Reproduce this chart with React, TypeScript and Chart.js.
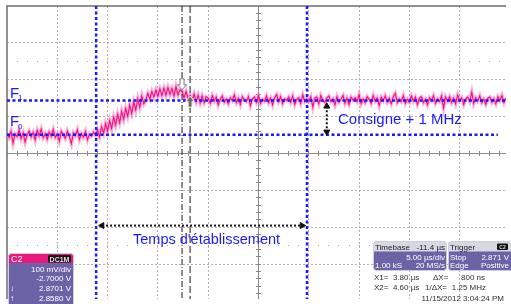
import React, { useEffect, useRef } from "react";
import { Chart, registerables } from "chart.js";

Chart.register(...registerables);

// ---------- data ----------
const sampleStartUs = -13.6;
const sampleStepUs = 0.2;

// C2 trace (V), one sample every 0.2 µs
const baselineVolts = [
  2.754, 2.743, 2.760, 2.728, 2.753, 2.746, 2.764, 2.741, 2.756, 2.731,
  2.750, 2.761, 2.745, 2.757, 2.737, 2.763, 2.748, 2.766, 2.743, 2.754,
  2.739, 2.758, 2.747, 2.765, 2.744, 2.753, 2.734, 2.760, 2.750, 2.741,
  2.761, 2.746, 2.727, 2.756, 2.748, 2.764, 2.738, 2.754, 2.744, 2.760,
  2.737, 2.753, 2.747, 2.758, 2.750,
];
const riseVolts = [
  2.764, 2.745, 2.772, 2.755, 2.781, 2.761, 2.789, 2.768, 2.798, 2.777,
  2.806, 2.784, 2.814, 2.793, 2.822, 2.801, 2.831, 2.809, 2.839, 2.818,
  2.848, 2.826, 2.856, 2.835,
];
const overshootVolts = [
  2.845, 2.863, 2.848, 2.868, 2.853, 2.872, 2.855, 2.875, 2.857, 2.877,
  2.858, 2.879, 2.860, 2.876, 2.856, 2.881, 2.859, 2.873, 2.870, 2.851,
  2.868, 2.848, 2.858, 2.843, 2.861, 2.840, 2.858, 2.837, 2.856, 2.838,
  2.854,
];
const settledVolts = [
  2.850, 2.836, 2.857, 2.842, 2.853, 2.832, 2.847, 2.856, 2.839, 2.848,
  2.835, 2.851, 2.844, 2.859, 2.838, 2.850, 2.833, 2.854, 2.845, 2.841,
  2.854, 2.830, 2.848, 2.853, 2.839, 2.857, 2.836, 2.847, 2.842, 2.856,
  2.838, 2.850, 2.832, 2.851, 2.860, 2.841, 2.854, 2.835, 2.848, 2.844,
  2.853, 2.839, 2.856, 2.833, 2.847, 2.851, 2.836, 2.859, 2.841, 2.848,
  2.842, 2.854, 2.826, 2.850, 2.853, 2.835, 2.857, 2.844, 2.838, 2.851,
  2.856, 2.841, 2.848, 2.832, 2.854, 2.839, 2.847, 2.857, 2.836, 2.850,
  2.833, 2.853, 2.845, 2.851, 2.841, 2.859, 2.835, 2.848, 2.838, 2.854,
  2.847, 2.836, 2.857, 2.842, 2.851, 2.830, 2.853, 2.844, 2.856, 2.839,
  2.850, 2.835, 2.854, 2.863, 2.838, 2.848, 2.841, 2.857, 2.836, 2.847,
  2.839, 2.856, 2.842, 2.853, 2.833, 2.850, 2.854, 2.838, 2.847, 2.832,
  2.851, 2.844, 2.857, 2.836, 2.848, 2.841, 2.856, 2.824, 2.853, 2.842,
  2.854, 2.838, 2.850, 2.835, 2.859, 2.844, 2.851, 2.833, 2.848, 2.853,
  2.841, 2.866, 2.836, 2.851, 2.842, 2.856, 2.838, 2.847, 2.833, 2.850,
  2.853, 2.839, 2.848, 2.835, 2.854, 2.844, 2.857, 2.838, 2.850,
];
const signalVolts = [...baselineVolts, ...riseVolts, ...overshootVolts, ...settledVolts];

// screen / graticule (5 µs/div, 100 mV/div, centre 11.4 µs / 2.7 V)
const screenTimeUs = [-13.6, 36.006];
const screenVolts = [2.30533, 3.1];
const gridTimesUs = [-8.6, -3.6, 1.4, 6.4, 16.4, 21.4, 26.4, 31.4];
const gridVolts = [3.0, 2.9, 2.8, 2.6, 2.5, 2.4];
const centerTimeUs = 11.4;
const centerVolt = 2.7;
const minorTimeStepUs = 1;
const minorVoltStep = 0.02;
const halfDivVolts = [2.95, 2.45];

// annotations
const levelF1 = 2.844;
const levelF0 = 2.7507;
const levelF0EndUs = 35.2;
const settleStartUs = -4.74;
const settleEndUs = 16.22;
const cursorTimesUs = [3.8, 4.6];
const cursorVolts = [2.8701, 2.858];
const settleArrowUs = [-4.15, 15.73];
const settleArrowVolt = 2.5045;
const stepArrowUs = 18.19;
const stepArrowVolts = [2.828, 2.7587];

const labelConsigne = "Consigne + 1 MHz";
const labelSettling = "Temps d'établissement";
const channelInfo = ["C2", "DC1M", "100 mV/div", "-2.7000 V", "2.8701 V", "2.8580 V"];
const timebaseInfo = ["Timebase", "-11.4 µs", "5.00 µs/div", "1.00 kS", "20 MS/s"];
const triggerInfo = ["Trigger", "Stop", "2.871 V", "Edge", "Positive"];
const cursorInfo = ["X1=  3.80 µs", "ΔX=", "800 ns", "X2=  4.60 µs", "1/ΔX=", "1.25 MHz"];
const dateText = "11/15/2012 3:04:24 PM";

const FONT = "'Liberation Sans', Arial, sans-serif";
const BLUE = "#1a1aff";
const PURPLE = "#6b63a5";

function rr(ctx: CanvasRenderingContext2D, x: number, y: number, w: number, h: number, r: number) {
  ctx.beginPath();
  ctx.moveTo(x + r, y);
  ctx.lineTo(x + w - r, y);
  ctx.quadraticCurveTo(x + w, y, x + w, y + r);
  ctx.lineTo(x + w, y + h - r);
  ctx.quadraticCurveTo(x + w, y + h, x + w - r, y + h);
  ctx.lineTo(x + r, y + h);
  ctx.quadraticCurveTo(x, y + h, x, y + h - r);
  ctx.lineTo(x, y + r);
  ctx.quadraticCurveTo(x, y, x + r, y);
  ctx.closePath();
}

const graticule = {
  id: "graticule",
  beforeDatasetsDraw(chart: any) {
    const { ctx, chartArea: a, scales } = chart;
    const xs = scales.x;
    const ys = scales.y;
    const px = (t: number) => Math.floor(xs.getPixelForValue(t)) + 0.5;
    const py = (v: number) => Math.floor(ys.getPixelForValue(v)) + 0.5;
    ctx.save();
    ctx.lineWidth = 1;
    ctx.strokeStyle = "#b0b0b0";
    ctx.setLineDash([2, 2]);
    ctx.beginPath();
    gridTimesUs.forEach((t) => {
      const x = px(t);
      ctx.moveTo(x, a.top);
      ctx.lineTo(x, a.bottom);
    });
    gridVolts.forEach((v) => {
      const y = py(v);
      ctx.moveTo(a.left, y);
      ctx.lineTo(a.right, y);
    });
    ctx.stroke();
    ctx.setLineDash([]);

    ctx.fillStyle = "#a4a4a4";
    halfDivVolts.forEach((v) => {
      const y = Math.floor(ys.getPixelForValue(v));
      for (let k = -30; k <= 30; k++) {
        const t = centerTimeUs + k * minorTimeStepUs;
        if (t <= screenTimeUs[0] || t >= screenTimeUs[1]) continue;
        ctx.fillRect(Math.floor(xs.getPixelForValue(t)), y, 1, 1);
      }
    });

    const cx = px(centerTimeUs);
    const cy = py(centerVolt);
    ctx.strokeStyle = "#8a8a8a";
    ctx.beginPath();
    ctx.moveTo(cx, a.top);
    ctx.lineTo(cx, a.bottom);
    ctx.moveTo(a.left, cy);
    ctx.lineTo(a.right, cy);
    for (let k = -30; k <= 30; k++) {
      const t = centerTimeUs + k * minorTimeStepUs;
      if (t <= screenTimeUs[0] || t >= screenTimeUs[1]) continue;
      const x = px(t);
      ctx.moveTo(x, cy - 2.5);
      ctx.lineTo(x, cy + 2.5);
    }
    for (let k = -25; k <= 25; k++) {
      const v = centerVolt + k * minorVoltStep;
      if (v <= screenVolts[0] || v >= screenVolts[1]) continue;
      const y = py(v);
      ctx.moveTo(cx - 2.5, y);
      ctx.lineTo(cx + 2.5, y);
    }
    ctx.stroke();

    ctx.strokeStyle = "#6e6e6e";
    ctx.lineWidth = 1.5;
    ctx.beginPath();
    ctx.moveTo(a.left, a.bottom);
    ctx.lineTo(a.left, a.top);
    ctx.lineTo(a.right, a.top);
    ctx.stroke();
    ctx.restore();
  },
};

const overlay = {
  id: "overlay",
  afterDraw(chart: any) {
    const ctx: CanvasRenderingContext2D = chart.ctx;
    const xs = chart.scales.x;
    const ys = chart.scales.y;
    ctx.save();

    // cursor markers
    const m1x = xs.getPixelForValue(cursorTimesUs[0]);
    const m1y = ys.getPixelForValue(cursorVolts[0]) - 1;
    ctx.beginPath();
    ctx.moveTo(m1x, m1y);
    ctx.lineTo(m1x - 4.5, m1y - 5);
    ctx.lineTo(m1x - 2, m1y - 5);
    ctx.lineTo(m1x - 2, m1y - 11);
    ctx.lineTo(m1x + 2, m1y - 11);
    ctx.lineTo(m1x + 2, m1y - 5);
    ctx.lineTo(m1x + 4.5, m1y - 5);
    ctx.closePath();
    ctx.fillStyle = "#ffffff";
    ctx.fill();
    ctx.strokeStyle = "#7a7a7a";
    ctx.lineWidth = 1;
    ctx.stroke();

    const m2x = xs.getPixelForValue(cursorTimesUs[1]);
    const m2y = ys.getPixelForValue(cursorVolts[1]) + 1;
    ctx.beginPath();
    ctx.moveTo(m2x, m2y);
    ctx.lineTo(m2x + 4.5, m2y + 5);
    ctx.lineTo(m2x + 2, m2y + 5);
    ctx.lineTo(m2x + 2, m2y + 11);
    ctx.lineTo(m2x - 2, m2y + 11);
    ctx.lineTo(m2x - 2, m2y + 5);
    ctx.lineTo(m2x - 4.5, m2y + 5);
    ctx.closePath();
    ctx.fillStyle = "#6a6a6a";
    ctx.fill();
    ctx.strokeStyle = "#ffffff";
    ctx.stroke();

    // blue labels
    ctx.fillStyle = BLUE;
    ctx.textBaseline = "alphabetic";
    ctx.textAlign = "left";
    const yF1 = ys.getPixelForValue(levelF1);
    const yF0 = ys.getPixelForValue(levelF0);
    ctx.font = `15px ${FONT}`;
    ctx.fillText("F", 10, yF1 - 2);
    ctx.fillText("F", 10, yF0 - 9);
    ctx.font = `8px ${FONT}`;
    ctx.fillText("1", 18, yF1);
    ctx.fillText("0", 18, yF0 - 6);
    ctx.font = `15px ${FONT}`;
    ctx.fillText(labelConsigne, 338, 124);
    ctx.font = `14.5px ${FONT}`;
    ctx.fillText(labelSettling, 133, 244);

    // channel descriptor
    ctx.save();
    rr(ctx, 8.5, 253.5, 65, 60, 3);
    ctx.clip();
    ctx.fillStyle = PURPLE;
    ctx.fillRect(0, 250, 80, 60);
    ctx.fillStyle = "#e8197d";
    ctx.fillRect(0, 250, 80, 13);
    ctx.restore();
    rr(ctx, 8.5, 253.5, 65, 60, 3);
    ctx.strokeStyle = "#cfcbe6";
    ctx.lineWidth = 1;
    ctx.stroke();
    rr(ctx, 48, 255, 23, 7.5, 1.5);
    ctx.fillStyle = "#141414";
    ctx.fill();
    ctx.font = `bold 7px ${FONT}`;
    ctx.fillStyle = "#f3d6e6";
    ctx.textAlign = "center";
    ctx.fillText(channelInfo[1], 59.5, 261.5);
    ctx.textAlign = "left";
    ctx.font = `9px ${FONT}`;
    ctx.fillStyle = "#ffffff";
    ctx.fillText(channelInfo[0], 11, 262);
    ctx.font = `8px ${FONT}`;
    ctx.textAlign = "right";
    ctx.fillText(channelInfo[2], 71, 272);
    ctx.fillText(channelInfo[3], 71, 281);
    ctx.fillText(channelInfo[4], 71, 291);
    ctx.fillText(channelInfo[5], 71, 301);
    ctx.textAlign = "left";
    ctx.fillText("↓", 10, 291);
    ctx.fillText("↑", 10, 301);

    // timebase & trigger descriptors
    const boxes: [number, number][] = [
      [373.5, 73],
      [448.5, 66],
    ];
    boxes.forEach(([bx, bw]) => {
      ctx.save();
      rr(ctx, bx, 241.5, bw, 29, 3);
      ctx.clip();
      ctx.fillStyle = PURPLE;
      ctx.fillRect(bx - 1, 240, bw + 2, 32);
      ctx.fillStyle = "#d8d8e0";
      ctx.fillRect(bx - 1, 240, bw + 2, 11.5);
      ctx.restore();
      rr(ctx, bx, 241.5, bw, 29, 3);
      ctx.strokeStyle = "#cfcbe6";
      ctx.stroke();
    });
    rr(ctx, 497, 243.5, 11, 6.5, 1);
    ctx.fillStyle = "#111";
    ctx.fill();
    ctx.font = `bold 5px ${FONT}`;
    ctx.fillStyle = "#ddd";
    ctx.textAlign = "center";
    ctx.fillText("C2", 502.5, 249);

    ctx.font = `8px ${FONT}`;
    ctx.fillStyle = "#1a1a2a";
    ctx.textAlign = "left";
    ctx.fillText(timebaseInfo[0], 375, 249.5);
    ctx.fillText(triggerInfo[0], 450, 249.5);
    ctx.textAlign = "right";
    ctx.fillText(timebaseInfo[1], 445, 249.5);
    ctx.fillStyle = "#ffffff";
    ctx.fillText(timebaseInfo[2], 445, 259.5);
    ctx.fillText(timebaseInfo[4], 445, 268);
    ctx.fillText(triggerInfo[2], 509, 259.5);
    ctx.fillText(triggerInfo[4], 509, 268);
    ctx.textAlign = "left";
    ctx.fillText(timebaseInfo[3], 375, 268);
    ctx.fillText(triggerInfo[1], 450, 259.5);
    ctx.fillText(triggerInfo[3], 450, 268);

    // cursor readouts
    ctx.fillStyle = "#303030";
    ctx.fillText(cursorInfo[0], 374, 280);
    ctx.fillText(cursorInfo[1], 433, 280);
    ctx.fillText(cursorInfo[3], 374, 290);
    ctx.textAlign = "right";
    ctx.fillText(cursorInfo[2], 485, 280);
    ctx.fillText(cursorInfo[4], 447, 290);
    ctx.fillText(cursorInfo[5], 486, 290);
    ctx.fillText(dateText, 504, 301);

    ctx.restore();
  },
};

export default function App() {
  const ref = useRef<HTMLCanvasElement>(null);

  useEffect(() => {
    document.body.style.margin = "0";
    const canvas = ref.current;
    if (!canvas) return;
    const trace = signalVolts.map((v, i) => ({ x: sampleStartUs + i * sampleStepUs, y: v }));
    const fullHeight = [
      { y: screenVolts[1] },
      { y: screenVolts[0] },
    ];
    const datasets: any[] = [
      {
        label: "settle arrow",
        data: [
          { x: settleArrowUs[0], y: settleArrowVolt },
          { x: settleArrowUs[1], y: settleArrowVolt },
        ],
        borderColor: "#111",
        borderWidth: 2,
        borderDash: [2, 2],
        pointStyle: "triangle",
        pointRadius: 3.5,
        pointRotation: [270, 90],
        pointBackgroundColor: "#111",
        pointBorderColor: "#111",
        pointBorderWidth: 1,
        order: 0,
      },
      {
        label: "step arrow",
        data: [
          { x: stepArrowUs, y: stepArrowVolts[0] },
          { x: stepArrowUs, y: stepArrowVolts[1] },
        ],
        borderColor: "#111",
        borderWidth: 2,
        borderDash: [2, 2],
        pointStyle: "triangle",
        pointRadius: 3.5,
        pointRotation: [0, 180],
        pointBackgroundColor: "#111",
        pointBorderColor: "#111",
        pointBorderWidth: 1,
        order: 0,
      },
      {
        label: "F1",
        data: [
          { x: screenTimeUs[0], y: levelF1 },
          { x: screenTimeUs[1], y: levelF1 },
        ],
        borderColor: BLUE,
        borderWidth: 2.5,
        borderDash: [3, 2.5],
        pointRadius: 0,
        order: 1,
      },
      {
        label: "F0",
        data: [
          { x: screenTimeUs[0], y: levelF0 },
          { x: levelF0EndUs, y: levelF0 },
        ],
        borderColor: BLUE,
        borderWidth: 2.5,
        borderDash: [3, 2.5],
        pointRadius: 0,
        order: 1,
      },
      {
        label: "settle start",
        data: fullHeight.map((p) => ({ x: settleStartUs, y: p.y })),
        borderColor: BLUE,
        borderWidth: 2.5,
        borderDash: [3, 2.5],
        pointRadius: 0,
        order: 1,
      },
      {
        label: "settle end",
        data: fullHeight.map((p) => ({ x: settleEndUs, y: p.y })),
        borderColor: BLUE,
        borderWidth: 2.5,
        borderDash: [3, 2.5],
        pointRadius: 0,
        order: 1,
      },
      {
        label: "X1",
        data: fullHeight.map((p) => ({ x: cursorTimesUs[0], y: p.y })),
        borderColor: "#1a1a1a",
        borderWidth: 1,
        borderDash: [6, 2, 1, 2],
        pointRadius: 0,
        order: 2,
      },
      {
        label: "X2",
        data: fullHeight.map((p) => ({ x: cursorTimesUs[1], y: p.y })),
        borderColor: "#1a1a1a",
        borderWidth: 1,
        borderDash: [7, 3],
        pointRadius: 0,
        order: 2,
      },
      {
        label: "C2 core",
        data: trace,
        borderColor: "#fa0a82",
        borderWidth: 1.1,
        pointRadius: 0,
        order: 9,
      },
      {
        label: "C2 halo",
        data: trace,
        borderColor: "rgba(255,120,188,0.6)",
        borderWidth: 3.5,
        pointRadius: 0,
        order: 10,
      },
    ];

    const chart = new Chart(canvas, {
      type: "line",
      data: { datasets },
      options: {
        animation: false,
        responsive: false,
        devicePixelRatio: 1,
        events: [],
        layout: { padding: { left: 7, top: 6, right: 0, bottom: 0 } },
        plugins: { legend: { display: false }, tooltip: { enabled: false } },
        elements: { line: { tension: 0 } },
        scales: {
          x: { type: "linear", min: screenTimeUs[0], max: screenTimeUs[1], display: false },
          y: { type: "linear", min: screenVolts[0], max: screenVolts[1], display: false },
        },
      },
      plugins: [graticule, overlay],
    } as any);
    return () => chart.destroy();
  }, []);

  return (
    <div style={{ position: "fixed", left: 0, top: 0, width: 511, height: 304, background: "#fff", overflow: "hidden" }}>
      <canvas ref={ref} width={511} height={304} style={{ display: "block" }} />
    </div>
  );
}
